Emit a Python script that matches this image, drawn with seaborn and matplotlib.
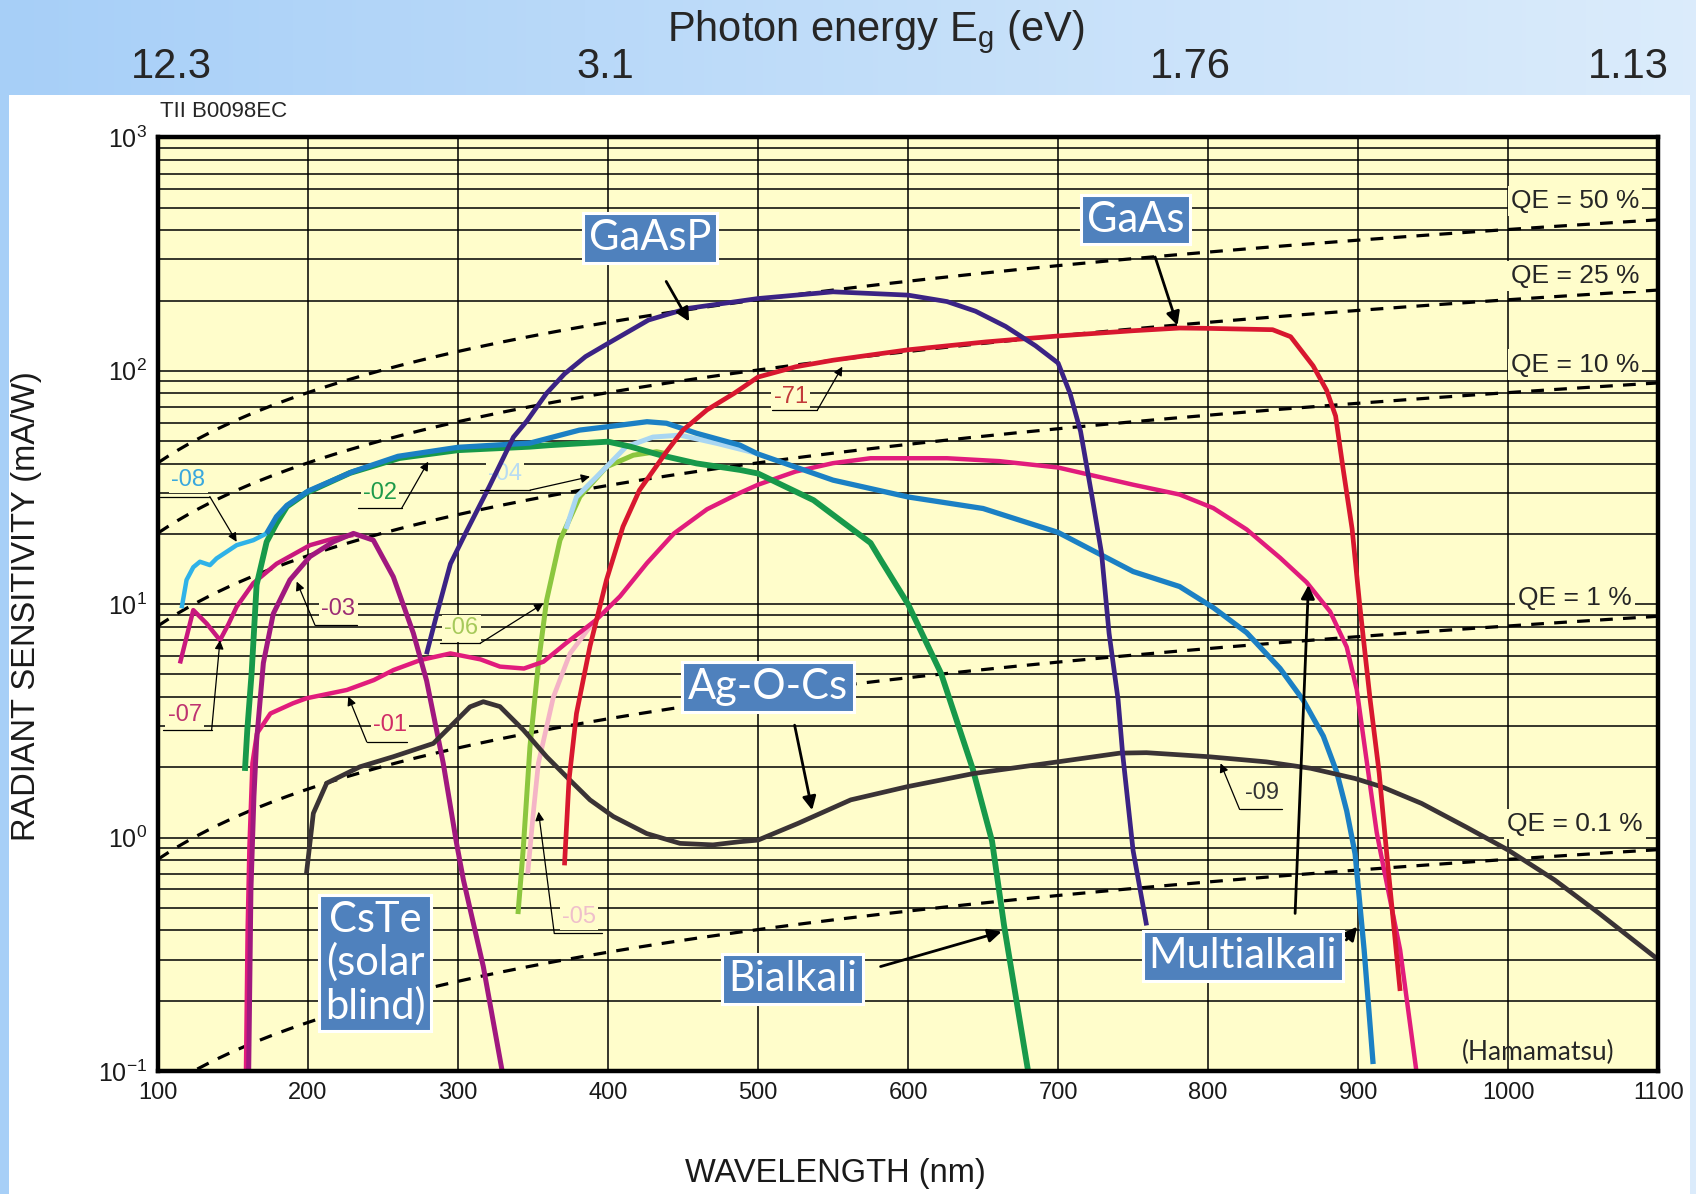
import numpy as np
import matplotlib
matplotlib.use("Agg")
import matplotlib.pyplot as plt
import seaborn as sns
from matplotlib.patches import Rectangle
from matplotlib.ticker import LogLocator, FuncFormatter, NullFormatter

# ---------------- data (wavelength nm, radiant sensitivity mA/W) ----------------
wl_gaasp = [279, 286, 295, 306, 321, 337, 346, 359, 371, 385, 400, 427, 453, 500, 550, 600,
            626, 645, 665, 685, 700, 708, 715, 723, 729, 734, 740, 743, 750, 759]
s_gaasp = [6.1, 9.1, 14.9, 20.7, 32, 52, 61, 80, 97, 115, 131, 165, 185, 204, 218, 211,
           198, 180, 155, 128, 108, 80, 55, 28, 16.5, 7.5, 3.9, 2.3, 0.88, 0.42]

wl_gaas = [371, 374, 379, 388, 399, 410, 421, 432, 439, 450, 466, 484, 500, 525, 550, 600,
           652, 700, 750, 781, 800, 843, 855, 870, 879, 885, 890, 896, 901, 908, 914, 919, 928]
s_gaas = [0.76, 1.76, 3.4, 6.6, 12.7, 21.5, 30.8, 38.8, 45, 55.7, 68, 80, 94, 104, 111, 123,
          133, 141, 148.5, 152.5, 152, 150, 140, 105, 82.5, 64, 38, 21, 10, 3.9, 1.9, 0.86, 0.22]

wl_01 = [158.7, 159.8, 161, 163, 166, 175, 190, 199, 226, 244, 257, 275, 295, 315, 328, 344,
         357, 372, 392, 408, 426, 444, 466, 488, 500, 525, 550, 575, 626, 661, 700, 750, 781,
         803.5, 825.7, 848, 865.7, 881.3, 892.4, 899.1, 905.7, 912.4, 916, 928, 939]
s_01 = [0.1, 0.4, 0.91, 2.08, 2.79, 3.4, 3.76, 3.95, 4.29, 4.73, 5.22, 5.76, 6.15, 5.8, 5.4, 5.3,
        5.67, 6.8, 8.55, 10.8, 15, 20.1, 25.5, 30, 32.5, 37, 40.2, 42.2, 42.2, 41, 38.5, 32.5, 29.5,
        25.8, 20.9, 15.8, 12.4, 9.3, 6.55, 4.3, 2.13, 1.05, 0.8, 0.33, 0.098]

wl_03 = [160.5, 162, 164, 165.8, 170.3, 176.9, 188, 201.4, 216.9, 230.3, 243.6, 256.9, 270.3,
         279.1, 290.2, 299, 303.6, 316.9, 330.2]
s_03 = [0.1, 0.6, 1.5, 2.6, 5.6, 9.1, 12.7, 16, 18.5, 20.1, 18.8, 13.1, 7.5,
        4.7, 2.08, 0.95, 0.66, 0.28, 0.094]

wl_07 = [114.7, 123.6, 132.5, 141.4, 147, 152.5, 163.6, 179.1, 201.4, 216.9, 230.3]
s_07 = [5.57, 9.43, 8.26, 7.01, 8.2, 9.75, 12.3, 14.9, 17.9, 19.1, 19.8]

wl_08uv = [115.8, 119.1, 123.6, 128, 134.7, 139.1, 152.5, 163.6, 172.5]
s_08uv = [9.6, 12.7, 14.4, 15.2, 14.7, 15.7, 17.9, 18.8, 20.1]

wl_08 = [172.5, 179, 186, 200, 230, 260, 300, 348, 381, 400, 426, 439, 459, 488, 500, 550, 600,
         650, 700, 750, 781, 803.5, 825.7, 848, 863.5, 876.8, 885.7, 892.4, 898, 904, 910]
s_08 = [20.1, 23.7, 26.5, 30.5, 37, 43, 47, 49, 55.7, 57.6, 60.5, 59.6, 54, 48, 44, 34, 28.8,
        25.7, 20.3, 13.8, 11.9, 9.66, 7.55, 5.3, 3.87, 2.72, 1.91, 1.3, 0.85, 0.33, 0.107]

wl_02 = [158, 159.6, 162.5, 165.8, 172.5, 179.1, 186, 199, 228, 261, 300, 348, 361, 400, 415,
         435, 459, 488, 500, 537, 575, 582, 600, 622, 643, 656, 664, 680]
s_02 = [1.93, 2.9, 5.1, 12.1, 18.5, 22.2, 26.2, 30, 36.5, 42.3, 45.7, 47.3, 48, 49.7, 47.3,
        43.5, 40.1, 37.6, 36.3, 27.9, 18.3, 15.4, 10.0, 5.05, 1.98, 0.965, 0.42, 0.1]

wl_06 = [340, 343.6, 348, 353.6, 359.1, 368, 381.3, 399.1, 416.9, 432.4, 440]
s_06 = [0.47, 0.91, 2.45, 5.57, 10.4, 18.8, 28.9, 38.8, 43.5, 45, 44]

wl_04 = [372, 379, 397, 412, 430, 448, 473, 499]
s_04 = [21, 28.8, 37.6, 47.2, 52, 53, 48.8, 44.3]

wl_05 = [346.5, 350.2, 353.6, 363.6, 374.7, 388, 392.5]
s_05 = [0.7, 1.27, 2.08, 4.0, 6.15, 8.0, 8.55]

wl_09 = [199, 203.6, 212.5, 234.7, 256.9, 283.6, 294.7, 308, 316.9, 328, 343.6, 359.1, 374.7,
         388, 403.6, 425.8, 448, 470, 488, 500, 526.7, 561.8, 599.2, 643.6, 661.3, 699.8,
         741.2, 758.9, 800.3, 838.8, 868.4, 898, 915.7, 942.3, 971.9, 1000, 1031, 1060.7, 1100]
s_09 = [0.70, 1.27, 1.71, 2.01, 2.22, 2.53, 2.98, 3.63, 3.82, 3.64, 2.89, 2.22, 1.76,
        1.45, 1.23, 1.04, 0.944, 0.93, 0.96, 0.975, 1.15, 1.45, 1.65, 1.88, 1.95, 2.11,
        2.30, 2.31, 2.22, 2.11, 1.98, 1.79, 1.65, 1.40, 1.11, 0.884, 0.658, 0.473, 0.30]

qe_percent = [50, 25, 10, 1, 0.1]
qe_labels = ["QE = 50 %", "QE = 25 %", "QE = 10 %", "QE = 1 %", "QE = 0.1 %"]
x_ticks = [100, 200, 300, 400, 500, 600, 700, 800, 900, 1000, 1100]
ev_labels = ["12.3", "3.1", "1.76", "1.13"]

# ---------------- style ----------------
sns.set_style("white")
plt.rcParams['font.family'] = ['Liberation Sans', 'DejaVu Sans']
plt.rcParams['mathtext.fontset'] = 'custom'
plt.rcParams['mathtext.rm'] = 'Liberation Sans'
plt.rcParams['mathtext.it'] = 'Liberation Sans:italic'
plt.rcParams['mathtext.bf'] = 'Liberation Sans:bold'
BOXFONT = ['Lato', 'DejaVu Sans']
AXBG = '#FFFDCB'

fig = plt.figure(figsize=(16.96, 11.94), dpi=100)

# background gradient + white panel
bg = fig.add_axes([0, 0, 1, 1], zorder=-10)
t = np.linspace(0, 1, 400)
c0 = np.array([0.655, 0.812, 0.972])
c1 = np.array([0.860, 0.925, 0.985])
grad = (c0[None, :] * (1 - t)[:, None] + c1[None, :] * t[:, None])[None, :, :]
bg.imshow(grad, aspect='auto', extent=[0, 1, 0, 1])
bg.add_patch(Rectangle((0.0051, 0), 0.9914, 0.9204, facecolor='white', edgecolor='none'))
bg.set_xlim(0, 1)
bg.set_ylim(0, 1)
bg.axis('off')

ax = fig.add_axes([0.0931, 0.1031, 0.8846, 0.7818])
ax.set_facecolor(AXBG)
ax.set_yscale('log')
ax.set_xlim(100, 1100)
ax.set_ylim(0.1, 1000)
ax.set_xticks(x_ticks)
ax.set_xticklabels([str(v) for v in x_ticks])
ax.yaxis.set_major_locator(LogLocator(base=10, numticks=10))
ax.yaxis.set_minor_locator(LogLocator(base=10, subs=np.arange(2, 10), numticks=40))
ax.yaxis.set_minor_formatter(NullFormatter())
ax.yaxis.set_major_formatter(FuncFormatter(
    lambda v, p: r'$\mathregular{10^{%d}}$' % int(round(np.log10(v)))))
ax.grid(True, which='major', axis='both', color='black', lw=1.1)
ax.grid(True, which='minor', axis='y', color='black', lw=1.1)
ax.set_axisbelow(True)
ax.tick_params(which='both', length=0, pad=8, labelsize=17, colors='#1a1a1a')
ax.tick_params(axis='y', labelsize=18)
for sp in ax.spines.values():
    sp.set_linewidth(3.2)
    sp.set_color('black')
    sp.set_visible(True)
ax.set_xlabel('')
ax.set_ylabel('')

# QE lines (S = QE * lambda / 1239.84 nm*W/A)
wl_grid = np.linspace(100, 1100, 300)
for q in qe_percent:
    sns.lineplot(x=wl_grid, y=q / 100 * wl_grid / 1239.84 * 1000, ax=ax, color='black',
                 lw=2.3, estimator=None, sort=False, zorder=1.8)
    ax.lines[-1].set_dashes((4, 3.2))

# curves
curves = [
    (wl_05, s_05, '#F4B4C6', 3.4),
    (wl_06, s_06, '#8CC63F', 3.6),
    (wl_04, s_04, '#A9D6F2', 3.6),
    (wl_01, s_01, '#E11C7C', 3.2),
    (wl_07, s_07, '#C8187E', 3.2),
    (wl_03, s_03, '#A0187F', 3.6),
    (wl_02, s_02, '#17994A', 4.2),
    (wl_08uv, s_08uv, '#2FB2E8', 3.2),
    (wl_08, s_08, '#1B80C4', 3.8),
    (wl_09, s_09, '#3A3335', 3.4),
    (wl_gaas, s_gaas, '#D8172F', 3.4),
    (wl_gaasp, s_gaasp, '#3B2384', 3.4),
]
for i, (x, y, c, lw) in enumerate(curves):
    sns.lineplot(x=x, y=y, ax=ax, color=c, lw=lw, estimator=None, sort=False,
                 zorder=2 + i * 0.01, solid_capstyle='butt', solid_joinstyle='round')

# QE labels
qe_pos = [532.6, 255, 106.3, 10.6, 1.14]
for lab, yv in zip(qe_labels, qe_pos):
    ax.text(1044.5, yv, lab, fontsize=19, ha='center', va='center', zorder=1.9,
            bbox=dict(boxstyle='square,pad=0.12', fc=AXBG, ec='none'))

# numbered labels with leader lines
num_labels = [
    ('-08', (120.2, 34.1), (101.4, 134.6, 28.9), (134.6, 28.9), (152.5, 18.5), '#3AA8DE'),
    ('-02', (248.0, 29.9), (233.4, 262.4, 25.7), (262.4, 25.7), (280.2, 40.8), '#1E9A4A'),
    ('-03', (220.3, 9.58), (204.7, 232.4, 8.13), (204.7, 8.13), (192.5, 12.5), '#9C2C74'),
    ('-07', (118.0, 3.35), (103.6, 135.8, 2.88), (135.8, 2.88), (141.4, 7.01), '#BE3370'),
    ('-01', (254.7, 3.03), (239.2, 265.8, 2.57), (239.2, 2.57), (226.9, 4.02), '#D02C66'),
    ('-06', (302.4, 7.87), (288.0, 314.7, 6.79), (314.7, 6.79), (356.9, 10.06), '#A6C95A'),
    ('-04', (331.4, 36.3), (314.7, 348.0, 30.8), (348.0, 30.8), (388.0, 35.2), '#B8DCF2'),
    ('-05', (380.6, 0.457), (364.2, 395.8, 0.388), (364.2, 0.388), (353.7, 1.29), '#EFBFCB'),
    ('-71', (521.7, 77.4), (509.0, 539.6, 67.9), (539.6, 67.9), (556.2, 104.2), '#C23A3A'),
    ('-09', (835.8, 1.546), (821.0, 849.1, 1.32), (821.0, 1.32), (808.3, 2.08), '#333333'),
]
for txt, xy, ul, start, tip, col in num_labels:
    ax.text(xy[0], xy[1], txt, color=col, fontsize=17, ha='center', va='center', zorder=1.9,
            bbox=dict(boxstyle='square,pad=0.1', fc=AXBG, ec='none'))
    ax.plot([ul[0], ul[1]], [ul[2], ul[2]], color='black', lw=0.9, zorder=4)
    ax.annotate('', xy=tip, xytext=start, zorder=4,
                arrowprops=dict(arrowstyle='-|>', color='black', lw=0.9,
                                mutation_scale=13, shrinkA=0, shrinkB=0))

# blue boxed labels
box_labels = [
    ('GaAsP', (428.0, 370.7)),
    ('GaAs', (751.8, 444.5)),
    ('Ag-O-Cs', (506.6, 4.42)),
    ('Bialkali', (523.2, 0.248)),
    ('Multialkali', (823.1, 0.31)),
    ('CsTe\n(solar\nblind)', (244.9, 0.29)),
]
for txt, xy in box_labels:
    ax.text(xy[0], xy[1], txt, fontsize=30, family=BOXFONT, color='white', ha='center',
            va='center', zorder=6, linespacing=1.12,
            bbox=dict(boxstyle='square,pad=0.14', fc='#4F81BD', ec='white', lw=2.2))

box_arrows = [
    ((438.8, 241.5), (454.1, 162.6)),
    ((764.7, 307.4), (779.6, 156.4)),
    ((524.4, 3.03), (536.1, 1.31)),
    ((581.7, 0.28), (662.4, 0.395)),
    ((858.0, 0.473), (866.9, 12.08)),
    ((892.1, 0.364), (899.4, 0.415)),
]
for start, tip in box_arrows:
    ax.annotate('', xy=tip, xytext=start, zorder=5,
                arrowprops=dict(arrowstyle='-|>', color='black', lw=2.0,
                                mutation_scale=20, shrinkA=0, shrinkB=0))

ax.text(1020, 0.12, '(Hamamatsu)', fontsize=19, family=BOXFONT, ha='center', va='center',
        zorder=5)

# figure texts
fig.text(0.5165, 0.9730, r'Photon energy E$_{\mathrm{g}}$ (eV)', fontsize=30,
         ha='center', va='center')
for lab, xf in zip(ev_labels, [0.1008, 0.3571, 0.7017, 0.9599]):
    fig.text(xf, 0.9439, lab, fontsize=30, ha='center', va='center')
fig.text(0.0943, 0.9067, 'TII B0098EC', fontsize=16, ha='left', va='center')
fig.text(0.0159, 0.4927, 'RADIANT SENSITIVITY (mA/W)', fontsize=23.5, rotation=90,
         ha='center', va='center', color='#1a1a1a')
fig.text(0.4923, 0.0171, 'WAVELENGTH (nm)', fontsize=23.5, ha='center', va='center',
         color='#1a1a1a')

fig.savefig('out.png', dpi=100)
